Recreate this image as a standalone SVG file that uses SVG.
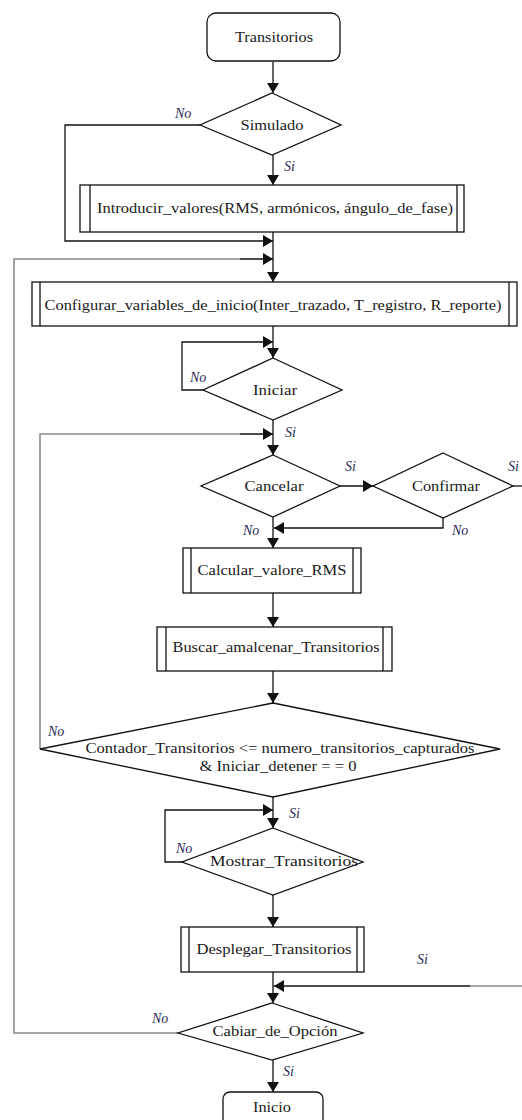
<svg xmlns="http://www.w3.org/2000/svg" width="522" height="1120" viewBox="0 0 522 1120">
<style>
.box{fill:#fff;stroke:#111;stroke-width:1.3}
.in{stroke:#111;stroke-width:1.3}
.t{font-family:"Liberation Serif","Times New Roman",serif;font-size:14.5px;fill:#1a1a1a;text-anchor:middle}
.lb{font-family:"Liberation Serif","Times New Roman",serif;font-size:14px;font-style:italic;fill:#2a2a55}
.c{fill:none;stroke:#111;stroke-width:1.3}
.g{fill:none;stroke:#8a8a8a;stroke-width:1.6}
</style>
<defs>
<marker id="ah" markerUnits="userSpaceOnUse" markerWidth="10" markerHeight="12" refX="10" refY="6" orient="auto">
<path d="M0,0 L10,6 L0,12 z" fill="#111"/>
</marker>
</defs>
<rect width="522" height="1120" fill="#fff"/>
<g id="connectors">
<path class="c" d="M273,62 V93" marker-end="url(#ah)"/>
<path class="c" d="M200,125 H65 V241 H273" marker-end="url(#ah)"/>
<path class="c" d="M273,155 V185" marker-end="url(#ah)"/>
<path class="c" d="M273,232 V282" marker-end="url(#ah)"/>
<path class="g" d="M178,1033 H14 V259 H240"/>
<path class="c" d="M240,259 H273" marker-end="url(#ah)"/>
<path class="c" d="M273,326 V358" marker-end="url(#ah)"/>
<path class="c" d="M203,390 H182 V342 H273" marker-end="url(#ah)"/>
<path class="c" d="M273,420 V455" marker-end="url(#ah)"/>
<path class="g" d="M40,749 V434 H240"/>
<path class="c" d="M240,434 H273" marker-end="url(#ah)"/>
<path class="c" d="M340,486 H373" marker-end="url(#ah)"/>
<path class="c" d="M513,486 H522"/>
<path class="c" d="M443,518 V528 H274" marker-end="url(#ah)"/>
<path class="c" d="M273,517 V548" marker-end="url(#ah)"/>
<path class="c" d="M273,593 V627" marker-end="url(#ah)"/>
<path class="c" d="M273,671 V703" marker-end="url(#ah)"/>
<path class="c" d="M273,797 V828" marker-end="url(#ah)"/>
<path class="c" d="M182,862 H165 V810 H273" marker-end="url(#ah)"/>
<path class="c" d="M273,895 V927" marker-end="url(#ah)"/>
<path class="c" d="M273,972 V1003" marker-end="url(#ah)"/>
<path class="g" d="M522,986 H470"/>
<path class="c" d="M470,986 H274" marker-end="url(#ah)"/>
<path class="c" d="M273,1060 V1092" marker-end="url(#ah)"/>
</g>
<g id="n-transitorios">
<rect class="box" x="207" y="13" width="133" height="48" rx="9"/>
<text class="t" x="274" y="42" textLength="78" lengthAdjust="spacingAndGlyphs">Transitorios</text>
</g>
<g id="n-simulado">
<polygon class="box" points="272,93 341,125 272,155 200,125"/>
<text class="t" x="272" y="130" textLength="63" lengthAdjust="spacingAndGlyphs">Simulado</text>
</g>
<g id="n-introducir">
<rect class="box" x="80" y="185" width="384" height="47"/>
<line class="in" x1="90" y1="185" x2="90" y2="232"/>
<line class="in" x1="457" y1="185" x2="457" y2="232"/>
<text class="t" x="275" y="213" textLength="356" lengthAdjust="spacingAndGlyphs">Introducir_valores(RMS, armónicos, ángulo_de_fase)</text>
</g>
<g id="n-configurar">
<rect class="box" x="32" y="282" width="485" height="44"/>
<line class="in" x1="40" y1="282" x2="40" y2="326"/>
<line class="in" x1="509" y1="282" x2="509" y2="326"/>
<text class="t" x="273" y="310" textLength="457" lengthAdjust="spacingAndGlyphs">Configurar_variables_de_inicio(Inter_trazado, T_registro, R_reporte)</text>
</g>
<g id="n-iniciar">
<polygon class="box" points="273,358 342,390 273,420 203,390"/>
<text class="t" x="275" y="395" textLength="44" lengthAdjust="spacingAndGlyphs">Iniciar</text>
</g>
<g id="n-cancelar">
<polygon class="box" points="273,455 340,486 273,517 201,486"/>
<text class="t" x="274" y="491" textLength="59" lengthAdjust="spacingAndGlyphs">Cancelar</text>
</g>
<g id="n-confirmar">
<polygon class="box" points="443,453 513,486 443,518 373,486"/>
<text class="t" x="446" y="491" textLength="68" lengthAdjust="spacingAndGlyphs">Confirmar</text>
</g>
<g id="n-calcular">
<rect class="box" x="183" y="548" width="178" height="45"/>
<line class="in" x1="191" y1="548" x2="191" y2="593"/>
<line class="in" x1="353" y1="548" x2="353" y2="593"/>
<text class="t" x="272" y="575" textLength="149" lengthAdjust="spacingAndGlyphs">Calcular_valore_RMS</text>
</g>
<g id="n-buscar">
<rect class="box" x="157" y="627" width="235" height="44"/>
<line class="in" x1="166" y1="627" x2="166" y2="671"/>
<line class="in" x1="383" y1="627" x2="383" y2="671"/>
<text class="t" x="276" y="652" textLength="207" lengthAdjust="spacingAndGlyphs">Buscar_amalcenar_Transitorios</text>
</g>
<g id="n-contador">
<polygon class="box" points="273,703 500,749 273,797 40,749"/>
<text class="t" x="280" y="753" textLength="389" lengthAdjust="spacingAndGlyphs">Contador_Transitorios &lt;= numero_transitorios_capturados</text>
<text class="t" x="278" y="771" textLength="157" lengthAdjust="spacingAndGlyphs">&amp; Iniciar_detener = = 0</text>
</g>
<g id="n-mostrar">
<polygon class="box" points="273,828 363,862 273,895 182,862"/>
<text class="t" x="284" y="866" textLength="148" lengthAdjust="spacingAndGlyphs">Mostrar_Transitorios</text>
</g>
<g id="n-desplegar">
<rect class="box" x="181" y="927" width="183" height="45"/>
<line class="in" x1="189" y1="927" x2="189" y2="972"/>
<line class="in" x1="357" y1="927" x2="357" y2="972"/>
<text class="t" x="274" y="954" textLength="155" lengthAdjust="spacingAndGlyphs">Desplegar_Transitorios</text>
</g>
<g id="n-cabiar">
<polygon class="box" points="272,1003 363,1033 272,1060 178,1033"/>
<text class="t" x="275" y="1036" textLength="125" lengthAdjust="spacingAndGlyphs">Cabiar_de_Opción</text>
</g>
<g id="n-inicio">
<rect class="box" x="223" y="1092" width="100" height="36" rx="7"/>
<text class="t" x="272" y="1112" textLength="38" lengthAdjust="spacingAndGlyphs">Inicio</text>
</g>
<g id="labels">
<text class="lb" x="175" y="118">No</text>
<text class="lb" x="284" y="171">Si</text>
<text class="lb" x="190" y="382">No</text>
<text class="lb" x="285" y="437">Si</text>
<text class="lb" x="345" y="471">Si</text>
<text class="lb" x="508" y="471">Si</text>
<text class="lb" x="243" y="535">No</text>
<text class="lb" x="452" y="535">No</text>
<text class="lb" x="48" y="736">No</text>
<text class="lb" x="289" y="818">Si</text>
<text class="lb" x="176" y="853">No</text>
<text class="lb" x="417" y="964">Si</text>
<text class="lb" x="152" y="1023">No</text>
<text class="lb" x="283" y="1076">Si</text>
</g>
</svg>
